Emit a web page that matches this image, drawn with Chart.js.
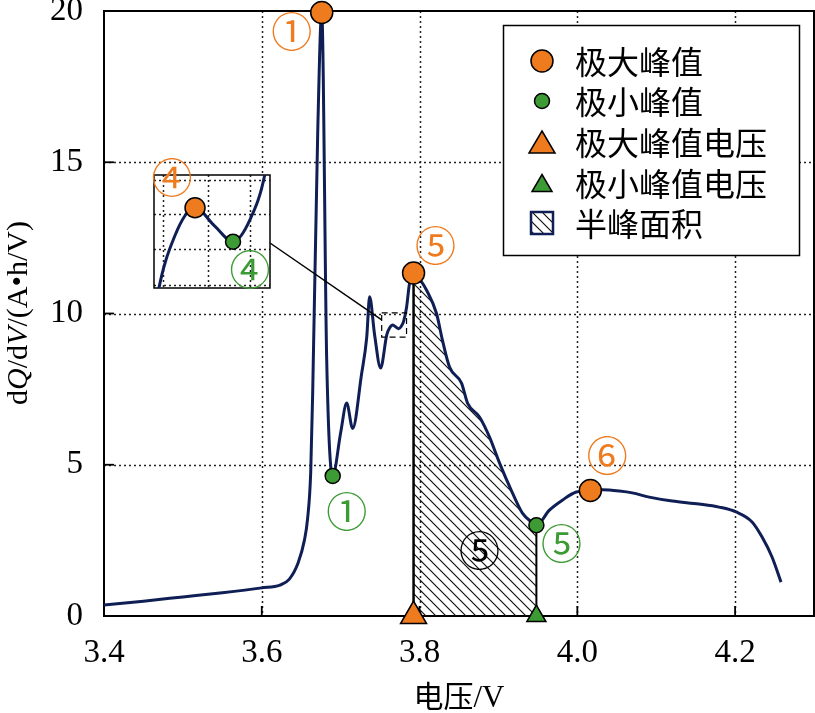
<!DOCTYPE html>
<html><head><meta charset="utf-8">
<script src="https://cdn.jsdelivr.net/npm/chart.js@4"></script>
<style>
html,body{margin:0;padding:0;background:#fff;}
#wrap{position:relative;width:815px;height:713px;overflow:hidden;}
#main{position:absolute;left:0;top:0;}
#inset{position:absolute;left:140px;top:155px;}
</style></head><body>
<div id="wrap">
<canvas id="main" width="815" height="713"></canvas>
<canvas id="inset" width="140" height="145"></canvas>
</div>
<script>
// ---------- data ----------
const voltage = [3.400,3.450,3.500,3.550,3.600,3.623,3.635,3.646,3.654,3.658,3.662,3.6646,3.6709,3.676,3.6823,3.6899,3.700,3.7076,3.7152,3.7265,3.733,3.7367,3.743,3.7506,3.7585,3.762,3.766,3.7699,3.7735,3.7769,3.7798,3.7835,3.7873,3.7924,3.8010,3.8089,3.8215,3.829,3.838,3.8532,3.8608,3.876,3.8886,3.9013,3.9177,3.9304,3.9418,3.9481,3.9646,3.981,3.9987,4.0165,4.0316,4.0532,4.0696,4.0911,4.1203,4.1544,4.1797,4.2013,4.2215,4.2342,4.2468,4.2582];
const dqdv = [0.36,0.49,0.63,0.77,0.93,1.02,1.22,1.75,2.5,3.2,4.73,7.47,15.97,19.95,8.46,4.63,6.06,7.04,6.2,8.0,9.2,10.55,9.3,8.2,9.3,9.52,9.62,9.555,9.50,9.58,9.74,10.2,11.0,11.34,11.1,10.77,10.0,9.12,8.23,7.7,7.04,6.58,5.92,5.06,4.07,3.4,3.11,3.0,3.5,3.83,4.1,4.15,4.17,4.13,4.07,3.93,3.8,3.7,3.6,3.44,3.11,2.61,1.95,1.12];

const maxPeakV = [3.676, 3.7924, 4.0165];
const maxPeakY = [19.95, 11.34, 4.15];
const maxPeakLabels = ['①', '⑤', '⑥'];
const minPeakV = [3.6899, 3.9481];
const minPeakY = [4.63, 3.0];
const minPeakLabels = ['①', '⑤'];
const insetPeakV = [3.766];
const insetPeakY = [9.62];
const insetValleyV = [3.7735];
const insetValleyY = [9.50];
const insetLabels = ['④', '④'];
const halfPeakRange = [3.7924, 3.9481];
const halfPeakLabel = '⑤';
const halfPeakLabelPos = [3.876, 2.12];
const xTicks = [3.4, 3.6, 3.8, 4.0, 4.2];
const yTicks = [0, 5, 10, 15, 20];
const insetRangeX = [3.7579, 3.7808];
const insetRangeY = [9.336, 9.736];
const insetXTicks = [3.7597, 3.7686, 3.7769];
const insetYTicks = [9.718, 9.598, 9.474, 9.347];
const zoomBox = [3.752, 3.7835, 9.22, 10.02];
const legendLabels = ['极大峰值', '极小峰值', '极大峰值电压', '极小峰值电压', '半峰面积'];
const xTitle = ['电压', '/V'];
const yTitle = [['d', false], ['Q', true], ['/d', false], ['V', true], ['/(A•h/V)', false]];

// ---------- styles ----------
const ORANGE = '#ef7b1f', GREEN = '#3d9b35', NAVY = '#0f1f55';
const SERIF = '"Liberation Serif", "Times New Roman", serif';
const CJK = '"Noto Sans CJK SC", sans-serif';
const CIRC_FONT = '"DejaVu Serif", "Noto Sans CJK SC", sans-serif';
const CIRC = 41;

const pts = voltage.map((v, i) => ({x: v, y: dqdv[i]}));
const hatchPts = pts.filter(p => p.x >= halfPeakRange[0] - 1e-9 && p.x <= halfPeakRange[1] + 1e-9);

function makeHatch(ctx) {
  const c = document.createElement('canvas'); c.width = 10; c.height = 10;
  const g = c.getContext('2d');
  g.strokeStyle = '#111'; g.lineWidth = 1.2;
  g.beginPath();
  g.moveTo(0, 0); g.lineTo(10, 10);
  g.moveTo(-1, 9); g.lineTo(1, 11);
  g.moveTo(9, -1); g.lineTo(11, 1);
  g.stroke();
  return ctx.createPattern(c, 'repeat');
}
const mainCtx = document.getElementById('main').getContext('2d');
const hatch = makeHatch(mainCtx);

function circled(ctx, txt, x, y, color, size) {
  ctx.save();
  ctx.font = (size || CIRC) + 'px ' + CIRC_FONT;
  ctx.fillStyle = color;
  ctx.textAlign = 'center';
  ctx.textBaseline = 'middle';
  ctx.fillText(txt, x, y + 3);
  ctx.restore();
}

const mainPlugin = {
  id: 'mainDecor',
  beforeDatasetsDraw(chart) {
    const {ctx, chartArea: a, scales: {x, y}} = chart;
    ctx.save();
    ctx.strokeStyle = '#222'; ctx.lineWidth = 1.5; ctx.setLineDash([2, 3]);
    xTicks.forEach(v => {
      const px = Math.round(x.getPixelForValue(v)) + 0.5;
      if (px <= a.left + 2 || px >= a.right - 2) return;
      ctx.beginPath(); ctx.moveTo(px, a.top); ctx.lineTo(px, a.bottom); ctx.stroke();
    });
    yTicks.forEach(v => {
      const py = Math.round(y.getPixelForValue(v)) + 0.5;
      if (py <= a.top + 2 || py >= a.bottom - 2) return;
      ctx.beginPath(); ctx.moveTo(a.left, py); ctx.lineTo(a.right, py); ctx.stroke();
    });
    ctx.setLineDash([]);
    ctx.strokeStyle = '#000'; ctx.lineWidth = 2;
    ctx.strokeRect(a.left, a.top, a.right - a.left, a.bottom - a.top);
    ctx.lineWidth = 1.8;
    xTicks.forEach(v => {
      const px = x.getPixelForValue(v);
      ctx.beginPath(); ctx.moveTo(px, a.bottom); ctx.lineTo(px, a.bottom - 10); ctx.stroke();
    });
    yTicks.forEach(v => {
      const py = y.getPixelForValue(v);
      ctx.beginPath(); ctx.moveTo(a.left, py); ctx.lineTo(a.left + 10, py); ctx.stroke();
    });
    ctx.restore();
  },
  afterDatasetsDraw(chart) {
    const {ctx, scales: {x, y}} = chart;
    ctx.save();
    const bx0 = x.getPixelForValue(zoomBox[0]), bx1 = x.getPixelForValue(zoomBox[1]);
    const by0 = y.getPixelForValue(zoomBox[3]), by1 = y.getPixelForValue(zoomBox[2]);
    ctx.strokeStyle = '#000'; ctx.lineWidth = 1.2; ctx.setLineDash([6, 4]);
    ctx.strokeRect(bx0, by0, bx1 - bx0, by1 - by0);
    ctx.setLineDash([]);
    ctx.lineWidth = 1.5;
    ctx.beginPath(); ctx.moveTo(270, 243); ctx.lineTo(bx0, by0 + 7); ctx.stroke();
    ctx.restore();
    const maxOff = [[-30, 21], [22, -26], [17, -33]];
    const minOff = [[14, 37], [25, 20]];
    maxPeakV.forEach((v, i) => circled(ctx, maxPeakLabels[i], x.getPixelForValue(v) + maxOff[i][0], y.getPixelForValue(maxPeakY[i]) + maxOff[i][1], ORANGE));
    minPeakV.forEach((v, i) => circled(ctx, minPeakLabels[i], x.getPixelForValue(v) + minOff[i][0], y.getPixelForValue(minPeakY[i]) + minOff[i][1], GREEN));
    circled(ctx, halfPeakLabel, x.getPixelForValue(halfPeakLabelPos[0]), y.getPixelForValue(halfPeakLabelPos[1]), '#000');
  },
  afterDraw(chart) {
    const {ctx} = chart;
    ctx.save();
    ctx.fillStyle = '#fff';
    ctx.fillRect(503, 25, 296, 230);
    ctx.strokeStyle = '#000'; ctx.lineWidth = 1.5;
    ctx.strokeRect(503.5, 25.5, 296, 230);
    const ly = [61, 101, 142, 183, 223];
    const ix = 542;
    ctx.lineWidth = 1.5; ctx.strokeStyle = '#000';
    ctx.fillStyle = ORANGE; ctx.beginPath(); ctx.arc(ix, ly[0], 11, 0, Math.PI * 2); ctx.fill(); ctx.stroke();
    ctx.fillStyle = GREEN; ctx.beginPath(); ctx.arc(ix, ly[1], 7.5, 0, Math.PI * 2); ctx.fill(); ctx.stroke();
    function tri(cx, cy, w, h, col) {
      ctx.fillStyle = col; ctx.beginPath();
      ctx.moveTo(cx, cy - h / 2); ctx.lineTo(cx + w / 2, cy + h / 2); ctx.lineTo(cx - w / 2, cy + h / 2); ctx.closePath();
      ctx.fill(); ctx.stroke();
    }
    tri(ix, ly[2], 26, 22, ORANGE);
    tri(ix, ly[3], 20, 17, GREEN);
    ctx.fillStyle = hatch; ctx.fillRect(531, ly[4] - 11, 22, 22);
    ctx.strokeStyle = NAVY; ctx.lineWidth = 2.5; ctx.strokeRect(531, ly[4] - 11, 22, 22);
    ctx.fillStyle = '#000'; ctx.font = '32px ' + CJK; ctx.textBaseline = 'middle'; ctx.textAlign = 'left';
    legendLabels.forEach((t, i) => ctx.fillText(t, 575, ly[i] + 1));
    ctx.font = '30px ' + CJK;
    const w1 = ctx.measureText(xTitle[0]).width;
    ctx.font = '31px ' + SERIF;
    const w2 = ctx.measureText(xTitle[1]).width;
    const sx = 459 - (w1 + w2) / 2;
    ctx.textBaseline = 'alphabetic';
    ctx.font = '30px ' + CJK; ctx.fillText(xTitle[0], sx, 707);
    ctx.font = '31px ' + SERIF; ctx.fillText(xTitle[1], sx + w1, 707);
    ctx.translate(27, 313); ctx.rotate(-Math.PI / 2);
    let tw = 0;
    yTitle.forEach(([t, it]) => { ctx.font = (it ? 'italic ' : '') + '30px ' + SERIF; tw += ctx.measureText(t).width; });
    let cx = -tw / 2;
    yTitle.forEach(([t, it]) => { ctx.font = (it ? 'italic ' : '') + '30px ' + SERIF; ctx.fillText(t, cx, 0); cx += ctx.measureText(t).width; });
    ctx.restore();
  }
};

const pointDs = (data, style, r, color, order) => ({
  data, showLine: false, pointStyle: style, pointRadius: r, pointHoverRadius: r,
  pointBackgroundColor: color, pointBorderColor: '#000', pointBorderWidth: 1.5, clip: false, order
});

new Chart(mainCtx, {
  type: 'line',
  data: {
    datasets: [
      pointDs(maxPeakV.map((v, i) => ({x: v, y: maxPeakY[i]})), 'circle', 11, ORANGE, 0),
      pointDs(minPeakV.map((v, i) => ({x: v, y: minPeakY[i]})), 'circle', 7.5, GREEN, 0),
      pointDs([{x: maxPeakV[1], y: 0}], 'triangle', 15, ORANGE, 1),
      pointDs([{x: minPeakV[1], y: 0}], 'triangle', 11, GREEN, 1),
      {data: [{x: halfPeakRange[0], y: 0}, {x: halfPeakRange[0], y: maxPeakY[1]}], borderColor: '#000', borderWidth: 2.5, pointRadius: 0, order: 2},
      {data: [{x: halfPeakRange[1], y: 0}, {x: halfPeakRange[1], y: minPeakY[1]}], borderColor: '#000', borderWidth: 2, pointRadius: 0, order: 2},
      {data: pts, borderColor: NAVY, borderWidth: 3, pointRadius: 0, cubicInterpolationMode: 'monotone', order: 3},
      {data: hatchPts, borderWidth: 0, borderColor: 'rgba(0,0,0,0)', pointRadius: 0, fill: 'origin', backgroundColor: hatch, cubicInterpolationMode: 'monotone', order: 4}
    ]
  },
  options: {
    responsive: false, animation: false, devicePixelRatio: 1,
    layout: {autoPadding: false, padding: {top: 11, right: 1, left: 0, bottom: 0}},
    plugins: {legend: {display: false}, tooltip: {enabled: false}},
    scales: {
      x: {
        type: 'linear', min: 3.4, max: 4.3,
        grid: {display: false}, border: {display: false},
        afterBuildTicks: s => { s.ticks = xTicks.map(v => ({value: v})); },
        afterFit: s => { s.height = 97; s.paddingLeft = 0; s.paddingRight = 0; },
        ticks: {font: {family: SERIF, size: 33}, color: '#000', padding: 10, maxRotation: 0, callback: v => v.toFixed(1)}
      },
      y: {
        type: 'linear', min: 0, max: 20,
        grid: {display: false}, border: {display: false},
        afterBuildTicks: s => { s.ticks = yTicks.map(v => ({value: v})); },
        afterFit: s => { s.width = 104; s.paddingTop = 0; s.paddingBottom = 0; },
        ticks: {font: {family: SERIF, size: 33}, color: '#000', padding: 13, callback: v => String(v)}
      }
    }
  },
  plugins: [mainPlugin]
});

// ---------- inset ----------
const insetPlugin = {
  id: 'insetDecor',
  beforeDatasetsDraw(chart) {
    const {ctx, chartArea: a, scales: {x, y}} = chart;
    ctx.save();
    ctx.fillStyle = '#fff'; ctx.fillRect(a.left, a.top, a.right - a.left, a.bottom - a.top);
    ctx.strokeStyle = '#222'; ctx.lineWidth = 1.5; ctx.setLineDash([2, 3]);
    insetXTicks.forEach(v => { const px = Math.round(x.getPixelForValue(v)) + 0.5; ctx.beginPath(); ctx.moveTo(px, a.top); ctx.lineTo(px, a.bottom); ctx.stroke(); });
    insetYTicks.forEach(v => { const py = Math.round(y.getPixelForValue(v)) + 0.5; ctx.beginPath(); ctx.moveTo(a.left, py); ctx.lineTo(a.right, py); ctx.stroke(); });
    ctx.setLineDash([]);
    ctx.strokeStyle = '#000'; ctx.lineWidth = 1.5;
    ctx.strokeRect(a.left, a.top, a.right - a.left, a.bottom - a.top);
    ctx.restore();
  },
  afterDraw(chart) {
    const {ctx, chartArea: a} = chart;
    circled(ctx, insetLabels[0], a.left + 18, a.top + 4, ORANGE, CIRC);
    circled(ctx, insetLabels[1], a.left + 96, a.top + 96, GREEN, CIRC);
  }
};
new Chart(document.getElementById('inset').getContext('2d'), {
  type: 'line',
  data: {
    datasets: [
      pointDs(insetPeakV.map((v, i) => ({x: v, y: insetPeakY[i]})), 'circle', 10, ORANGE, 0),
      pointDs(insetValleyV.map((v, i) => ({x: v, y: insetValleyY[i]})), 'circle', 7.5, GREEN, 0),
      {data: pts, borderColor: NAVY, borderWidth: 3, pointRadius: 0, cubicInterpolationMode: 'monotone', order: 3}
    ]
  },
  options: {
    responsive: false, animation: false, devicePixelRatio: 1,
    layout: {autoPadding: false, padding: {left: 14, top: 20, right: 10, bottom: 12}},
    plugins: {legend: {display: false}, tooltip: {enabled: false}},
    scales: {
      x: {type: 'linear', display: false, min: insetRangeX[0], max: insetRangeX[1]},
      y: {type: 'linear', display: false, min: insetRangeY[0], max: insetRangeY[1]}
    }
  },
  plugins: [insetPlugin]
});
</script>
</body></html>
